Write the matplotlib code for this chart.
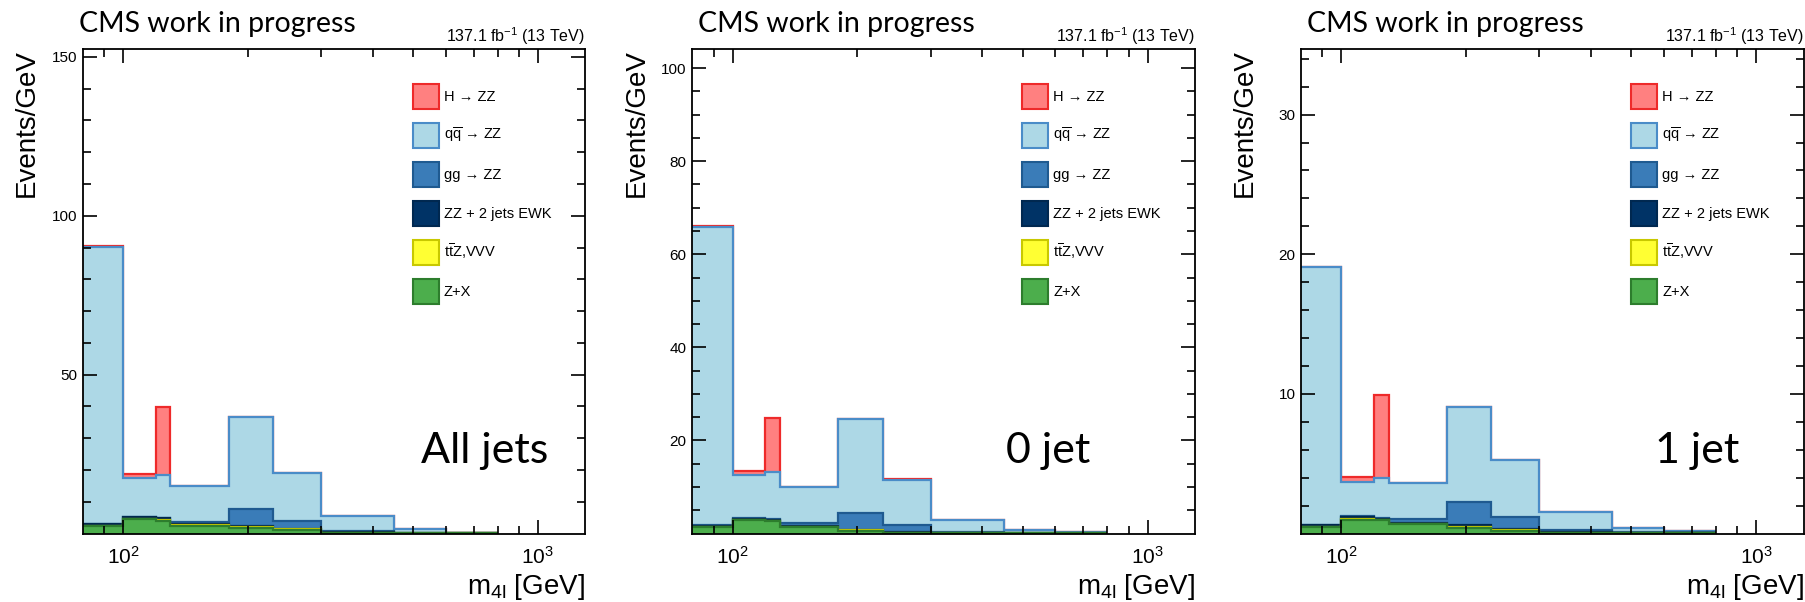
import numpy as np
import matplotlib
matplotlib.use('Agg')
import matplotlib.pyplot as plt
from matplotlib.patches import Patch

plt.rcParams['font.family'] = ['Liberation Sans', 'DejaVu Sans']
plt.rcParams['mathtext.fontset'] = 'custom'
plt.rcParams['mathtext.rm'] = 'Liberation Sans'
plt.rcParams['mathtext.it'] = 'Liberation Sans:italic'
plt.rcParams['mathtext.default'] = 'regular'

# m4l bin edges (GeV)
edges = [80, 100, 120, 130, 180, 230, 300, 450, 600, 800]

# Events/GeV per bin, stacked bottom -> top: Z+X, ttZ/VVV, ZZ+2jets EWK, gg->ZZ, qq->ZZ, H->ZZ
zx_all  = [2.3, 4.5, 4.0, 2.5, 1.8, 1.0, 0.2, 0.05, 0.02]
ttz_all = [0.05, 0.1, 0.1, 0.2, 0.3, 0.3, 0.1, 0.03, 0.01]
ewk_all = [0.5, 0.6, 0.7, 0.3, 0.2, 0.2, 0.1, 0.05, 0.02]
gg_all  = [0.05, 0.1, 0.1, 0.5, 5.5, 2.3, 0.3, 0.1, 0.1]
qq_all  = [87.2, 12.3, 13.4, 11.3, 28.8, 15.1, 4.8, 1.2, 0.15]
h_all   = [0.5, 1.1, 21.4, 0.0, 0.0, 0.0, 0.0, 0.0, 0.0]

zx_0j  = [1.3, 2.8, 2.6, 1.4, 0.6, 0.1, 0.05, 0.01, 0.01]
ttz_0j = [0.0, 0.0, 0.0, 0.05, 0.1, 0.05, 0.02, 0.0, 0.0]
ewk_0j = [0.4, 0.3, 0.3, 0.2, 0.1, 0.1, 0.03, 0.01, 0.01]
gg_0j  = [0.05, 0.3, 0.3, 0.6, 3.5, 1.5, 0.2, 0.1, 0.1]
qq_0j  = [64.05, 9.15, 10.0, 7.65, 20.2, 9.65, 2.5, 0.58, 0.1]
h_0j   = [0.3, 0.9, 11.7, 0.0, 0.0, 0.3, 0.0, 0.0, 0.0]

zx_1j  = [0.48, 1.0, 0.95, 0.65, 0.42, 0.2, 0.05, 0.02, 0.01]
ttz_1j = [0.0, 0.02, 0.02, 0.05, 0.08, 0.05, 0.02, 0.01, 0.0]
ewk_1j = [0.12, 0.19, 0.1, 0.07, 0.08, 0.06, 0.04, 0.02, 0.02]
gg_1j  = [0.02, 0.02, 0.05, 0.25, 1.7, 0.85, 0.14, 0.05, 0.06]
qq_1j  = [18.5, 2.47, 2.83, 2.58, 6.77, 4.09, 1.3, 0.3, 0.1]
h_1j   = [0.0, 0.35, 6.0, 0.0, 0.0, 0.0, 0.0, 0.0, 0.0]

labels = ['H \u2192 ZZ', 'q$\\overline{\\mathrm{q}}$ \u2192 ZZ', 'gg \u2192 ZZ',
          'ZZ + 2 jets EWK', 't$\\overline{\\mathrm{t}}$Z,VVV', 'Z+X']
# colours in stack order (bottom -> top)
faces = ['#4cae4c', '#ffff33', '#003366', '#3a7cb8', '#add8e6', '#ff8080']
lines = ['#2d7d2d', '#c8c800', '#002850', '#1f5a90', '#4a8cc8', '#ee2a2a']

fig = plt.figure(figsize=(18.05, 6.02), dpi=100)
W, H = 1805.0, 602.0


def draw_panel(left_px, comps, ymax, major, minor, tag, tag_x, cms_x):
    ax = fig.add_axes([left_px / W, (H - 533.5) / H, 502.5 / W, 484.5 / H])
    # cumulative stack, drawn top layer first like a ROOT THStack
    cums = np.cumsum(np.array(comps), axis=0)
    for i in range(len(comps) - 1, -1, -1):
        ax.stairs(cums[i], edges, baseline=0, fill=True, facecolor=faces[i], edgecolor='none')
        ax.stairs(cums[i], edges, baseline=None, color=lines[i], lw=1.6)

    ax.set_xscale('log')
    ax.set_xlim(80, 1300)
    ax.set_ylim(0, ymax)
    ax.set_xticks([100, 1000])
    ax.set_xticklabels([r'$10^{2}$', r'$10^{3}$'], fontsize=15)
    ax.set_xticks([90, 200, 300, 400, 500, 600, 700, 800, 900], minor=True)
    ax.set_xticklabels([], minor=True)
    ax.set_yticks(major)
    ax.set_yticklabels([str(v) for v in major], fontsize=11)
    ax.set_yticks(minor, minor=True)
    ax.tick_params(which='both', direction='in', top=True, right=True, width=1.2)
    ax.tick_params(which='major', length=10)
    ax.tick_params(which='minor', length=5.5)
    ax.tick_params(axis='x', pad=9)
    ax.tick_params(axis='y', pad=4)
    for s in ax.spines.values():
        s.set_linewidth(1.3)

    handles = [Patch(facecolor=faces[i], edgecolor=lines[i], lw=1.5) for i in range(5, -1, -1)]
    ax.legend(handles, labels, loc='upper left', bbox_to_anchor=(0.657, 0.928),
              frameon=False, fontsize=10.5, handlelength=1.77, handleheight=2.3,
              labelspacing=0.93, handletextpad=0.35, borderpad=0, borderaxespad=0)

    ax.text(cms_x, 1.035, 'CMS work in progress',
            transform=ax.transAxes, family='Lato', fontsize=20.5, va='baseline', ha='left')
    ax.text(1.0, 1.0144, r'137.1 fb$^{-1}$ (13 TeV)', transform=ax.transAxes,
            fontsize=11.5, ha='right', va='baseline')
    ax.text(-0.111, 1.0, 'Events/GeV', transform=ax.transAxes, rotation=90,
            fontsize=20, ha='center', va='top')
    ax.text(1.0, -0.11, r'm$_{4l}$ [GeV]', transform=ax.transAxes,
            fontsize=20, ha='right', va='center')
    ax.text(tag_x, 0.17, tag, transform=ax.transAxes, family='Lato',
            fontsize=31, ha='left', va='center')
    return ax


draw_panel(82.7, [zx_all, ttz_all, ewk_all, gg_all, qq_all, h_all], 152.5,
           [50, 100, 150], np.arange(10, 151, 10), 'All jets', 0.673, -0.007)
draw_panel(692.3, [zx_0j, ttz_0j, ewk_0j, gg_0j, qq_0j, h_0j], 104.1,
           [20, 40, 60, 80, 100], np.arange(5, 104, 5), '0 jet', 0.625, 0.012)
draw_panel(1301.0, [zx_1j, ttz_1j, ewk_1j, gg_1j, qq_1j, h_1j], 34.7,
           [10, 20, 30], np.arange(2, 35, 2), '1 jet', 0.705, 0.012)

fig.savefig('out.png', dpi=100)
